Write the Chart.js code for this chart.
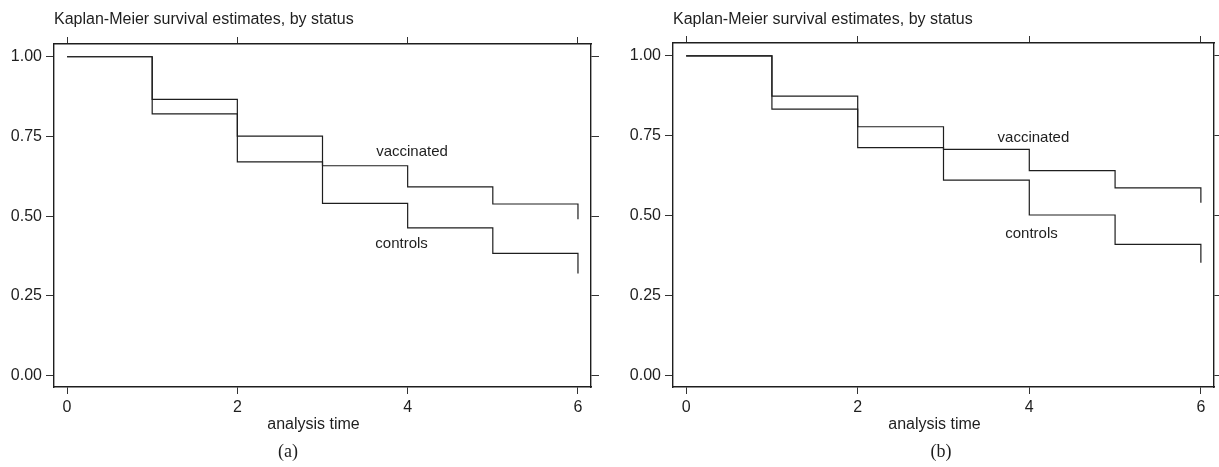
<!DOCTYPE html>
<html>
<head>
<meta charset="utf-8">
<script src="https://cdn.jsdelivr.net/npm/chart.js@4.4.1/dist/chart.umd.min.js"></script>
<style>
  html, body { margin: 0; padding: 0; background: #fff; }
  .panel { position: absolute; top: 0; height: 467px; }
  #panelA { left: 0; width: 609px; }
  #panelB { left: 609px; width: 610px; }
</style>
</head>
<body>
<div class="panel" id="panelA"><canvas id="kmChartA"></canvas></div>
<div class="panel" id="panelB"><canvas id="kmChartB"></canvas></div>
<script>
// data
const times = [0, 1, 2, 3, 4, 5, 6];
const vaccinatedA = [1, 0.866, 0.751, 0.658, 0.592, 0.538, 0.490];
const controlsA   = [1, 0.821, 0.670, 0.540, 0.463, 0.383, 0.320];
const vaccinatedB = [1, 0.874, 0.778, 0.707, 0.641, 0.587, 0.540];
const controlsB   = [1, 0.833, 0.713, 0.611, 0.502, 0.410, 0.353];
const xTicks = [0, 2, 4, 6];
const yTicks = [0, 0.25, 0.5, 0.75, 1];
const seriesNames = ['vaccinated', 'controls'];
const chartTitle = 'Kaplan-Meier survival estimates, by status';
const xAxisTitle = 'analysis time';
const panelLabels = ['(a)', '(b)'];

Chart.defaults.font.family = "'Liberation Sans', Arial, sans-serif";
Chart.defaults.font.size = 16;
Chart.defaults.color = '#1a1a1a';

const ink = '#1e1e1e';

// text drawn on top: curve labels, axis title, panel letter
const captions = {
  id: 'captions',
  afterDraw(chart, args, opts) {
    const { ctx, chartArea, scales } = chart;
    ctx.save();
    ctx.fillStyle = ink;
    ctx.textBaseline = 'middle';
    ctx.textAlign = 'left';
    ctx.font = "15px 'Liberation Sans', Arial, sans-serif";
    opts.notes.forEach(n => {
      ctx.fillText(n.text, scales.x.getPixelForValue(n.x), scales.y.getPixelForValue(n.y));
    });
    ctx.textAlign = 'center';
    ctx.font = "16px 'Liberation Sans', Arial, sans-serif";
    ctx.fillText(xAxisTitle, (chartArea.left + chartArea.right) / 2 - 9, opts.axisTitleY);
    ctx.font = "18px 'Liberation Serif', 'Times New Roman', serif";
    ctx.fillText(opts.panel, opts.panelX, opts.panelY);
    ctx.restore();
  }
};

function steps(values) {
  return times.map((t, i) => ({ x: t, y: values[i] }));
}

function tickList(list) {
  return s => { s.ticks = list.map(v => ({ value: v })); };
}

function makePanel(id, vacc, ctrl, sizes, notes, panel, panelX) {
  const xRange = { min: -0.153, max: 6.153 };
  const yRange = { min: -0.036, max: 1.04 };
  return new Chart(document.getElementById(id), {
    type: 'line',
    data: {
      datasets: [
        { label: seriesNames[0], data: steps(vacc), stepped: 'before' },
        { label: seriesNames[1], data: steps(ctrl), stepped: 'before' }
      ].map(d => Object.assign(d, {
        borderColor: ink,
        borderWidth: 1.2,
        pointRadius: 0,
        fill: false
      }))
    },
    options: {
      responsive: true,
      maintainAspectRatio: false,
      animation: false,
      layout: { padding: 0 },
      plugins: {
        legend: { display: false },
        tooltip: { enabled: false },
        title: {
          display: true,
          text: chartTitle,
          align: 'start',
          fullSize: false,
          color: ink,
          font: { size: 16, weight: 'normal' },
          padding: { top: 10, bottom: 0 }
        },
        captions: { notes, panel, panelX, panelY: 452, axisTitleY: 425 }
      },
      scales: {
        x: {
          type: 'linear', position: 'bottom', ...xRange,
          afterBuildTicks: tickList(xTicks),
          afterFit: s => { s.height = 467 - sizes.bottom; },
          grid: { drawOnChartArea: false, tickLength: 7, color: '#333', lineWidth: 1 },
          border: { color: ink, width: 1.4 },
          ticks: { color: ink, padding: 4, maxRotation: 0, autoSkip: false }
        },
        xTop: {
          type: 'linear', position: 'top', ...xRange,
          afterBuildTicks: tickList(xTicks),
          afterFit: s => { s.height = sizes.top - 29.2; },
          grid: { drawOnChartArea: false, tickLength: 7, color: '#333', lineWidth: 1 },
          border: { color: ink, width: 1.4 },
          ticks: { display: false }
        },
        y: {
          type: 'linear', position: 'left', ...yRange,
          afterBuildTicks: tickList(yTicks),
          afterFit: s => { s.width = sizes.left; },
          grid: { drawOnChartArea: false, tickLength: 8, color: '#333', lineWidth: 1 },
          border: { color: ink, width: 1.4 },
          ticks: { color: ink, padding: 4, callback: v => v.toFixed(2) }
        },
        yRight: {
          type: 'linear', position: 'right', ...yRange,
          afterBuildTicks: tickList(yTicks),
          afterFit: s => { s.width = sizes.right; },
          grid: { drawOnChartArea: false, tickLength: 8, color: '#333', lineWidth: 1 },
          border: { color: ink, width: 1.4 },
          ticks: { display: false }
        }
      }
    },
    plugins: [captions]
  });
}

// Pannello (a)
makePanel('kmChartA', vaccinatedA, controlsA,
  { left: 54, right: 609 - 591, top: 44, bottom: 387 },
  [
    { text: seriesNames[0], x: 3.63, y: 0.702 },
    { text: seriesNames[1], x: 3.62, y: 0.412 }
  ],
  panelLabels[0], 288);

// Pannello (b)
makePanel('kmChartB', vaccinatedB, controlsB,
  { left: 64, right: 610 - 605, top: 43, bottom: 387 },
  [
    { text: seriesNames[0], x: 3.63, y: 0.744 },
    { text: seriesNames[1], x: 3.72, y: 0.444 }
  ],
  panelLabels[1], 332);
</script>
</body>
</html>
